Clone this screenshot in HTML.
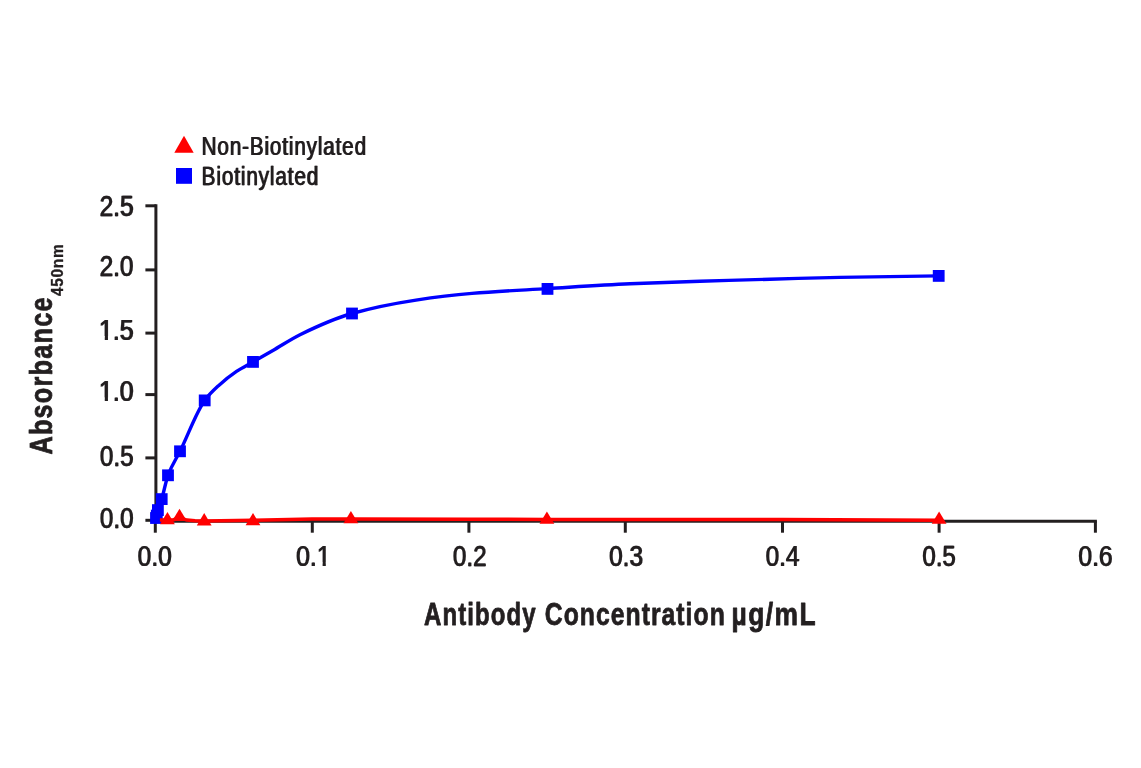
<!DOCTYPE html>
<html><head><meta charset="utf-8"><title>Chart</title>
<style>
html,body{margin:0;padding:0;background:#fff;}
body{width:1141px;height:768px;overflow:hidden;}
svg{display:block;will-change:transform;}
text{font-family:"Liberation Sans",sans-serif;font-kerning:none;fill:#231f20;stroke:#231f20;stroke-width:0.80px;stroke-linejoin:round;}
text.r{stroke-width:0.25px;}
text.s{stroke-width:0.35px;}
</style></head><body>
<svg width="1141" height="768" viewBox="0 0 1141 768">
<rect x="0" y="0" width="1141" height="768" fill="#ffffff"/>

<g stroke="#231f20" stroke-width="3.00" fill="none" stroke-linecap="butt">
<line x1="155.90" y1="204.30" x2="155.90" y2="521.20"/>
<line x1="154.40" y1="521.20" x2="1096.90" y2="521.20"/>
<line x1="145.40" y1="205.80" x2="155.90" y2="205.80"/>
<line x1="145.40" y1="269.90" x2="155.90" y2="269.90"/>
<line x1="145.40" y1="333.10" x2="155.90" y2="333.10"/>
<line x1="145.40" y1="394.60" x2="155.90" y2="394.60"/>
<line x1="145.40" y1="457.90" x2="155.90" y2="457.90"/>
<line x1="145.40" y1="520.30" x2="155.90" y2="520.30"/>
<line x1="155.30" y1="521.20" x2="155.30" y2="532.70"/>
<line x1="312.30" y1="521.20" x2="312.30" y2="532.70"/>
<line x1="468.90" y1="521.20" x2="468.90" y2="532.70"/>
<line x1="625.30" y1="521.20" x2="625.30" y2="532.70"/>
<line x1="782.50" y1="521.20" x2="782.50" y2="532.70"/>
<line x1="939.10" y1="521.20" x2="939.10" y2="532.70"/>
<line x1="1095.40" y1="521.20" x2="1095.40" y2="532.70"/>
</g>
<text id="r1" class="r" font-size="29.30" transform="translate(99.17,216.00) scale(0.8362,1)">2.5</text><use href="#r1" transform="translate(0.80,0)"/>
<text id="r2" class="r" font-size="29.30" transform="translate(99.17,276.40) scale(0.8344,1)">2.0</text><use href="#r2" transform="translate(0.80,0)"/>
<text id="r3" class="r" font-size="29.30" transform="translate(98.60,339.70) scale(0.8505,1)">1.5</text><use href="#r3" transform="translate(0.80,0)"/><rect x="99.40" y="336.11" width="5.36" height="5.49" fill="#fff"/><rect x="107.98" y="336.11" width="5.17" height="5.49" fill="#fff"/>
<text id="r4" class="r" font-size="29.30" transform="translate(98.61,401.10) scale(0.8486,1)">1.0</text><use href="#r4" transform="translate(0.80,0)"/><rect x="99.40" y="397.51" width="5.35" height="5.49" fill="#fff"/><rect x="107.96" y="397.51" width="5.16" height="5.49" fill="#fff"/>
<text id="r5" class="r" font-size="29.30" transform="translate(99.45,465.60) scale(0.8291,1)">0.5</text><use href="#r5" transform="translate(0.80,0)"/>
<text id="r6" class="r" font-size="29.30" transform="translate(99.45,527.70) scale(0.8272,1)">0.0</text><use href="#r6" transform="translate(0.80,0)"/>
<text id="r7" class="r" font-size="29.30" transform="translate(137.24,566.00) scale(0.8376,1)">0.0</text><use href="#r7" transform="translate(0.80,0)"/>
<text id="r8" class="r" font-size="29.30" transform="translate(295.73,566.00) scale(0.8482,1)">0.1</text><use href="#r8" transform="translate(0.80,0)"/><rect x="317.25" y="562.41" width="5.35" height="5.49" fill="#fff"/><rect x="325.81" y="562.41" width="5.16" height="5.49" fill="#fff"/>
<text id="r9" class="r" font-size="29.30" transform="translate(452.55,566.00) scale(0.8291,1)">0.2</text><use href="#r9" transform="translate(0.80,0)"/>
<text id="r10" class="r" font-size="29.30" transform="translate(608.75,566.00) scale(0.8329,1)">0.3</text><use href="#r10" transform="translate(0.80,0)"/>
<text id="r11" class="r" font-size="29.30" transform="translate(765.15,566.00) scale(0.8340,1)">0.4</text><use href="#r11" transform="translate(0.80,0)"/>
<text id="r12" class="r" font-size="29.30" transform="translate(922.06,566.00) scale(0.8186,1)">0.5</text><use href="#r12" transform="translate(0.80,0)"/>
<text id="r13" class="r" font-size="29.30" transform="translate(1077.93,566.00) scale(0.8434,1)">0.6</text><use href="#r13" transform="translate(0.80,0)"/>
<polygon points="184.00,135.80 174.30,152.80 193.70,152.80" fill="#ff0000"/>
<rect x="176" y="168" width="16" height="15.8" fill="#0000ff"/>
<text id="r14" class="r" font-size="26.30" transform="translate(201.31,154.50) scale(0.7851,1)" letter-spacing="1.096">Non-Biotinylated</text><use href="#r14" transform="translate(0.80,0)"/>
<text id="r15" class="r" font-size="26.30" transform="translate(201.29,184.90) scale(0.7911,1)" letter-spacing="1.044">Biotinylated</text><use href="#r15" transform="translate(0.80,0)"/>
<text font-size="31.40" font-weight="bold" transform="translate(424.00,624.50) scale(0.7635,1)" letter-spacing="1.453">Antibody</text>
<text font-size="31.40" font-weight="bold" transform="translate(544.79,624.50) scale(0.7876,1)" letter-spacing="1.315">Concentration</text>
<text font-size="31.40" font-weight="bold" transform="translate(731.57,624.50) scale(0.8415,1)" letter-spacing="1.695">µg/mL</text>
<g transform="translate(51.2,453) rotate(-90)">
<text font-size="31.70" font-weight="bold" transform="translate(-1.53,0.60) scale(0.7980,1)" letter-spacing="1.517">Absorbance</text>
<text font-size="17.00" font-weight="bold" transform="translate(157.07,11.60) scale(0.9129,1)" class="s" letter-spacing="0.691">450nm</text>
</g>
<path d="M156.00,518.00 C156.27,517.42 156.53,516.59 156.80,515.60 C157.17,514.24 157.53,511.51 157.90,510.10 C159.17,505.22 160.43,503.21 161.70,499.10 C163.80,492.29 165.90,480.97 168.00,475.30 C172.00,464.49 176.00,459.41 180.00,451.30 C188.23,434.62 196.47,411.63 204.70,400.40 C209.20,394.26 213.70,390.14 218.20,386.00 C224.30,380.39 230.40,375.47 236.50,371.40 C242.00,367.73 247.50,365.06 253.00,361.90 C259.63,358.09 266.27,354.33 272.90,350.50 C281.93,345.28 290.97,339.12 300.00,334.70 C317.33,326.23 334.67,318.35 352.00,313.50 C373.33,307.53 394.67,303.33 416.00,300.10 C434.67,297.27 453.33,294.97 472.00,293.40 C497.17,291.28 522.33,290.13 547.50,288.60 C575.00,286.93 602.50,285.01 630.00,283.80 C653.33,282.77 676.67,282.06 700.00,281.30 C723.33,280.54 746.67,279.85 770.00,279.20 C793.33,278.55 816.67,277.85 840.00,277.40 C872.90,276.76 905.80,276.20 938.70,275.90" fill="none" stroke="#0000ff" stroke-width="3.4" stroke-linejoin="round"/>
<rect x="150.10" y="512.10" width="11.80" height="11.80" fill="#0000ff"/>
<rect x="150.90" y="509.70" width="11.80" height="11.80" fill="#0000ff"/>
<rect x="152.00" y="504.20" width="11.80" height="11.80" fill="#0000ff"/>
<rect x="155.80" y="493.20" width="11.80" height="11.80" fill="#0000ff"/>
<rect x="162.10" y="469.40" width="11.80" height="11.80" fill="#0000ff"/>
<rect x="174.10" y="445.40" width="11.80" height="11.80" fill="#0000ff"/>
<rect x="198.80" y="394.50" width="11.80" height="11.80" fill="#0000ff"/>
<rect x="247.10" y="356.00" width="11.80" height="11.80" fill="#0000ff"/>
<rect x="346.10" y="307.60" width="11.80" height="11.80" fill="#0000ff"/>
<rect x="541.60" y="283.00" width="11.80" height="11.80" fill="#0000ff"/>
<rect x="932.80" y="270.00" width="11.80" height="11.80" fill="#0000ff"/>
<path d="M159.90,520.00 L167.50,520.10 L173.00,520.00 L179.50,517.60 L187.00,520.10 L195.00,520.80 L204.20,520.90 L253.00,520.20 L312.00,519.10 L350.90,519.10 L468.00,519.20 L546.90,519.40 L625.00,519.40 L782.00,519.60 L939.10,520.30" fill="none" stroke="#ff0000" stroke-width="3.5" stroke-linejoin="round"/>
<polygon points="167.45,511.90 160.05,524.20 174.85,524.20" fill="#ff0000"/>
<polygon points="179.50,508.80 172.10,521.10 186.90,521.10" fill="#ff0000"/>
<polygon points="204.20,513.10 196.80,525.40 211.60,525.40" fill="#ff0000"/>
<polygon points="253.00,513.00 245.60,525.30 260.40,525.30" fill="#ff0000"/>
<polygon points="350.90,510.90 343.50,523.20 358.30,523.20" fill="#ff0000"/>
<polygon points="546.90,511.40 539.50,523.70 554.30,523.70" fill="#ff0000"/>
<polygon points="939.10,511.40 931.70,523.70 946.50,523.70" fill="#ff0000"/>
</svg></body></html>
